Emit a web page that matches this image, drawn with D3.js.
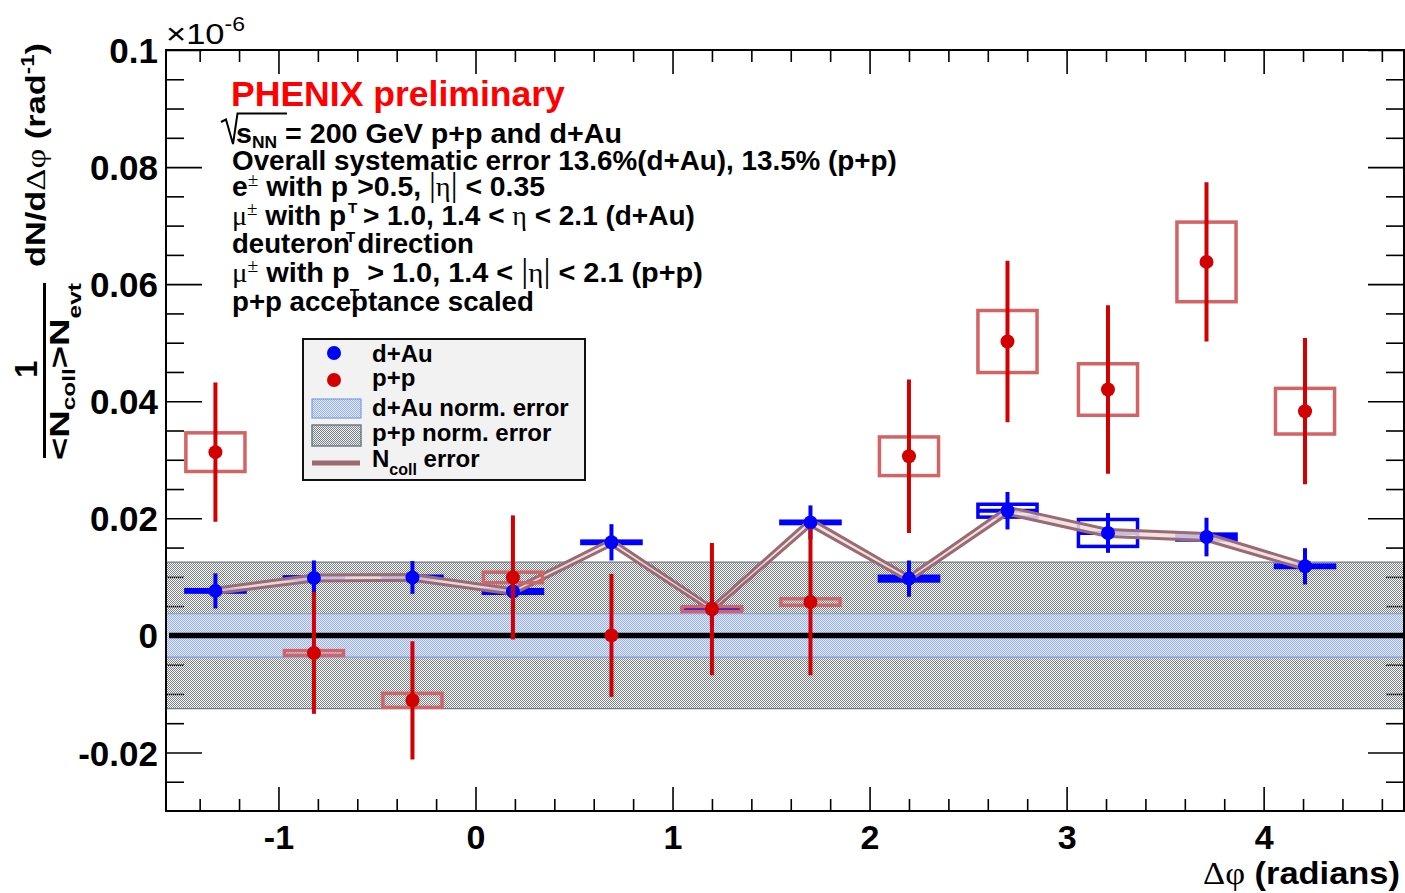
<!DOCTYPE html>
<html>
<head>
<meta charset="utf-8">
<script src="https://cdn.jsdelivr.net/npm/d3@7"></script>
<style>
  html, body { margin: 0; padding: 0; background: #ffffff; }
  svg { display: block; font-family: "Liberation Sans", Arial, Helvetica, sans-serif; }
</style>
</head>
<body>
<svg id="chart" width="1405" height="893"></svg>
<script>
// ---------------------------------------------------------------
// Azimuthal correlation per binary collision, d+Au vs p+p (x 1e-6)
// ---------------------------------------------------------------

// Δφ bin centres (radians)
const dphi = [-1.32, -0.82, -0.32, 0.19, 0.69, 1.20, 1.70, 2.20, 2.70, 3.21, 3.71, 4.21];

// d+Au: value, statistical error, systematic (box) error, N_coll error
const dAuValue = [0.0076, 0.0098, 0.0099, 0.0075, 0.0159, 0.0045, 0.0193, 0.0097, 0.0213, 0.0175, 0.0168, 0.0118];
const dAuStat  = [0.0030, 0.0030, 0.0028, 0.0028, 0.0031, 0.0028, 0.0029, 0.0031, 0.0032, 0.0034, 0.0033, 0.0031];
const dAuSyst  = [0.0002, 0.0002, 0.0002, 0.0003, 0.0002, 0.0001, 0.0002, 0.0004, 0.0011, 0.0023, 0.0005, 0.0002];
const dAuNcoll = [0.00045, 0.0005, 0.0005, 0.00045, 0.0005, 0.0004, 0.0006, 0.00045, 0.0006, 0.0006, 0.0006, 0.0005];

// p+p: value, statistical error, systematic (box) error
const ppValue = [0.0313, -0.0030, -0.0111, 0.0099, 0.0000, 0.0045, 0.0057, 0.0306, 0.0502, 0.0420, 0.0638, 0.0383];
const ppStat  = [0.0119, 0.0104, 0.0101, 0.0106, 0.0105, 0.0113, 0.0125, 0.0131, 0.0138, 0.0144, 0.0136, 0.0125];
const ppSyst  = [0.0033, 0.0004, 0.0012, 0.0009, 0.0000, 0.0004, 0.00055, 0.0033, 0.0053, 0.0044, 0.0068, 0.0039];

// half width of systematic boxes / horizontal error bars (radians)
const boxHalfWidth = 0.15;

// overall normalisation uncertainties, drawn as bands around zero
const ppNormError  = 0.0125;
const dAuNormError = 0.0037;

// axes
const xDomain = [-Math.PI / 2, 3 * Math.PI / 2];
const yDomain = [-0.03, 0.1];
const xTickValues = [-1, 0, 1, 2, 3, 4];
const xTickLabels = ["-1", "0", "1", "2", "3", "4"];
const yTickValues = [-0.02, 0, 0.02, 0.04, 0.06, 0.08, 0.1];
const yTickLabels = ["-0.02", "0", "0.02", "0.04", "0.06", "0.08", "0.1"];

// ---------------------------------------------------------------
const svg = d3.select("#chart");
const frame = { left: 166, right: 1404, top: 50, bottom: 811 };

const x = d3.scaleLinear().domain(xDomain).range([frame.left, frame.right]);
const y = d3.scaleLinear().domain(yDomain).range([frame.bottom, frame.top]);

const RED = "#d20000", RED_BOX = "#d26466", BLUE = "#0000ff", NCOLL = "#9c6a72";

const defs = svg.append("defs");
defs.append("clipPath").attr("id", "plotClip")
  .append("rect")
  .attr("x", frame.left).attr("y", frame.top)
  .attr("width", frame.right - frame.left).attr("height", frame.bottom - frame.top);

// fine checker fills for the normalisation bands
function checker(id, dot, bg) {
  const p = defs.append("pattern").attr("id", id)
    .attr("patternUnits", "userSpaceOnUse").attr("width", 2).attr("height", 2);
  if (bg) p.append("rect").attr("width", 2).attr("height", 2).attr("fill", bg);
  p.append("rect").attr("x", 0).attr("y", 0).attr("width", 1).attr("height", 1).attr("fill", dot);
  p.append("rect").attr("x", 1).attr("y", 1).attr("width", 1).attr("height", 1).attr("fill", dot);
}
checker("ppNormFill", "#787f87", null);
checker("dAuNormFill", "#9ab2ee", "#e2e9fb");

// stretch a text element horizontally (in its own frame) to a given length
function fitText(sel, length) {
  const w = sel.node().getComputedTextLength();
  if (w > 0) sel.attr("transform", `scale(${length / w},1)`);
  return sel;
}

// ---------------- axes (ticks on all four sides) ----------------
const xMinor = d3.range(-7, 24).map(i => +(i * 0.2).toFixed(1))
  .filter(v => Math.abs(v - Math.round(v)) > 1e-6);
const yMinor = d3.range(-5, 20).map(i => +(i * 0.005).toFixed(3))
  .filter(v => Math.abs(v / 0.02 - Math.round(v / 0.02)) > 1e-6);

function axisLayer(axis, tx, ty) {
  const g = svg.append("g").attr("transform", `translate(${tx},${ty})`).call(axis);
  g.select(".domain").remove();
  g.selectAll(".tick line").attr("stroke", "#000").attr("stroke-width", 1.6);
  return g;
}

const xMajorLen = 24, xMinorLen = 12, yMajorLen = 36, yMinorLen = 18;

const gBottom = axisLayer(d3.axisBottom(x).tickValues(xTickValues).tickSize(-xMajorLen)
  .tickPadding(14).tickFormat((d, i) => xTickLabels[i]), 0, frame.bottom);
gBottom.selectAll("text").attr("font-size", 34).attr("font-weight", "bold")
  .attr("fill", "#000").attr("font-family", "Liberation Sans, Arial, sans-serif");
axisLayer(d3.axisBottom(x).tickValues(xMinor).tickSize(-xMinorLen).tickFormat(""), 0, frame.bottom);
axisLayer(d3.axisTop(x).tickValues(xTickValues).tickSize(-xMajorLen).tickFormat(""), 0, frame.top);
axisLayer(d3.axisTop(x).tickValues(xMinor).tickSize(-xMinorLen).tickFormat(""), 0, frame.top);

const gLeft = axisLayer(d3.axisLeft(y).tickValues(yTickValues).tickSize(-yMajorLen)
  .tickPadding(8).tickFormat((d, i) => yTickLabels[i]), frame.left, 0);
gLeft.selectAll("text").attr("font-size", 35).attr("font-weight", "bold").attr("dy", "0.36em")
  .attr("fill", "#000").attr("font-family", "Liberation Sans, Arial, sans-serif");
axisLayer(d3.axisLeft(y).tickValues(yMinor).tickSize(-yMinorLen).tickFormat(""), frame.left, 0);
axisLayer(d3.axisRight(y).tickValues(yTickValues).tickSize(-yMajorLen).tickFormat(""), frame.right, 0);
axisLayer(d3.axisRight(y).tickValues(yMinor).tickSize(-yMinorLen).tickFormat(""), frame.right, 0);

// ---------------- normalisation bands ----------------
const plot = svg.append("g").attr("clip-path", "url(#plotClip)");

function band(err, fill, edge) {
  plot.append("rect")
    .attr("x", frame.left).attr("width", frame.right - frame.left)
    .attr("y", y(err)).attr("height", y(-err) - y(err))
    .attr("fill", `url(#${fill})`);
  [err, -err].forEach(v => plot.append("line")
    .attr("x1", frame.left).attr("x2", frame.right)
    .attr("y1", y(v)).attr("y2", y(v))
    .attr("stroke", edge).attr("stroke-width", 1.2));
}
band(ppNormError, "ppNormFill", "#6f7c8a");
band(dAuNormError, "dAuNormFill", "#7e9de4");

// zero line
plot.append("line")
  .attr("x1", frame.left + 3).attr("x2", frame.right)
  .attr("y1", y(0)).attr("y2", y(0))
  .attr("stroke", "#000").attr("stroke-width", 5.5);

// ---------------- d+Au ----------------
const dAu = dphi.map((d, i) => ({ x: d, v: dAuValue[i], stat: dAuStat[i], syst: dAuSyst[i], ncoll: dAuNcoll[i] }));
const pp = dphi.map((d, i) => ({ x: d, v: ppValue[i], stat: ppStat[i], syst: ppSyst[i] }));

function boxes(data, color) {
  plot.append("g").selectAll("rect").data(data).join("rect")
    .attr("x", d => x(d.x - boxHalfWidth))
    .attr("width", d => x(d.x + boxHalfWidth) - x(d.x - boxHalfWidth))
    .attr("y", d => y(d.v + d.syst))
    .attr("height", d => y(d.v - d.syst) - y(d.v + d.syst))
    .attr("fill", "none").attr("stroke", color).attr("stroke-width", 3.5);
}

boxes(dAu, BLUE);

// statistical error bars (vertical) and bin-width bars (horizontal)
const gDAuErr = plot.append("g").attr("stroke", BLUE).attr("stroke-width", 4);
gDAuErr.selectAll("line.v").data(dAu).join("line").attr("class", "v")
  .attr("x1", d => x(d.x)).attr("x2", d => x(d.x))
  .attr("y1", d => y(d.v + d.stat)).attr("y2", d => y(d.v - d.stat));
gDAuErr.selectAll("line.h").data(dAu).join("line").attr("class", "h")
  .attr("x1", d => x(d.x - boxHalfWidth)).attr("x2", d => x(d.x + boxHalfWidth))
  .attr("y1", d => y(d.v)).attr("y2", d => y(d.v));

// N_coll uncertainty: a double line following the d+Au points
const upper = d3.line().x(d => x(d.x)).y(d => y(d.v + d.ncoll));
const lower = d3.line().x(d => x(d.x)).y(d => y(d.v - d.ncoll));
const area = d3.area().x(d => x(d.x)).y0(d => y(d.v - d.ncoll)).y1(d => y(d.v + d.ncoll));
plot.append("path").datum(dAu).attr("d", area).attr("fill", "#eadede").attr("opacity", 0.85);
[upper, lower].forEach(gen => plot.append("path").datum(dAu).attr("d", gen)
  .attr("fill", "none").attr("stroke", NCOLL).attr("stroke-width", 3));

plot.append("g").selectAll("circle").data(dAu).join("circle")
  .attr("cx", d => x(d.x)).attr("cy", d => y(d.v)).attr("r", 7).attr("fill", BLUE);

// ---------------- p+p ----------------
boxes(pp, RED_BOX);
plot.append("g").attr("stroke", RED).attr("stroke-width", 4)
  .selectAll("line").data(pp).join("line")
  .attr("x1", d => x(d.x)).attr("x2", d => x(d.x))
  .attr("y1", d => y(d.v + d.stat)).attr("y2", d => y(d.v - d.stat));
plot.append("g").selectAll("circle").data(pp).join("circle")
  .attr("cx", d => x(d.x)).attr("cy", d => y(d.v)).attr("r", 7).attr("fill", RED);

// ---------------- frame ----------------
svg.append("rect")
  .attr("x", frame.left).attr("y", frame.top)
  .attr("width", frame.right - frame.left).attr("height", frame.bottom - frame.top)
  .attr("fill", "none").attr("stroke", "#000").attr("stroke-width", 2);

// ---------------- axis titles ----------------
const SERIF = "Liberation Serif, DejaVu Serif, serif";

// exponent
{
  const g = svg.append("g").attr("transform", "translate(166,44)");
  const t = g.append("text").attr("font-size", 30).attr("fill", "#000");
  t.append("tspan").text("×10");
  t.append("tspan").attr("font-size", 20).attr("dy", -13).text("-6");
  fitText(t, 79);
}

// x title
{
  const g = svg.append("g").attr("transform", "translate(1203,884)");
  const t = g.append("text").attr("font-size", 32).attr("font-weight", "bold").attr("fill", "#000");
  t.append("tspan").attr("font-family", SERIF).attr("font-weight", "normal").text("Δφ");
  t.append("tspan").text(" (radians)");
  fitText(t, 197);
}

// y title: 1/(<N_coll> N_evt) dN/dΔφ (rad^-1)
{
  const gNum = svg.append("g").attr("transform", "translate(37,369) rotate(-90)");
  gNum.append("text").attr("font-size", 31).attr("font-weight", "bold")
    .attr("text-anchor", "middle").text("1");

  svg.append("line").attr("x1", 44.5).attr("x2", 44.5).attr("y1", 283).attr("y2", 458)
    .attr("stroke", "#000").attr("stroke-width", 3);

  const gDen = svg.append("g").attr("transform", "translate(69,460) rotate(-90)");
  const den = gDen.append("text").attr("font-size", 28).attr("font-weight", "bold");
  den.append("tspan").text("<N");
  den.append("tspan").attr("font-size", 18).attr("dy", 6).text("coll");
  den.append("tspan").attr("dy", -6).text(">N");
  den.append("tspan").attr("font-size", 18).attr("dy", 12).text("evt");
  fitText(den, 177);

  const gD = svg.append("g").attr("transform", "translate(45,267) rotate(-90)");
  const dn = gD.append("text").attr("font-size", 28).attr("font-weight", "bold");
  dn.append("tspan").text("dN/d");
  dn.append("tspan").attr("font-family", SERIF).attr("font-weight", "normal").text("Δφ");
  dn.append("tspan").text(" (rad");
  dn.append("tspan").attr("font-size", 18).attr("dy", -11).text("-1");
  dn.append("tspan").attr("dy", 11).text(")");
  fitText(dn, 224);
}

// ---------------- annotation block ----------------
{
  const gP = svg.append("g").attr("transform", "translate(231,106)");
  fitText(gP.append("text").attr("font-size", 35).attr("font-weight", "bold")
    .attr("fill", "#ff0000").text("PHENIX preliminary"), 334);

  // a line of annotation text built from [text, style] pieces
  function annot(xPos, yPos, pieces, length) {
    const g = svg.append("g").attr("transform", `translate(${xPos},${yPos})`);
    const t = g.append("text").attr("font-size", 28).attr("font-weight", "bold").attr("fill", "#000");
    let shift = 0;
    pieces.forEach(([txt, kind]) => {
      const s = t.append("tspan").text(txt);
      let target = 0;
      if (kind === "sym") s.attr("font-family", SERIF).attr("font-weight", "normal");
      if (kind === "bar") s.attr("font-family", SERIF).attr("font-weight", "normal").attr("font-size", 34);
      if (kind === "sup") { s.attr("font-family", SERIF).attr("font-weight", "normal").attr("font-size", 19); target = -10; }
      if (kind === "sub") { s.attr("font-size", 15); target = 17; }
      if (kind === "subNN") { s.attr("font-size", 17); target = 5; }
      if (target !== shift) { s.attr("dy", target - shift); shift = target; }
    });
    return fitText(t, length);
  }

  // √ sign with overbar for sqrt(s_NN)
  svg.append("path")
    .attr("d", "M221,122 L226,119.5 L233,144 L237.5,113.5 L287,113.5")
    .attr("fill", "none").attr("stroke", "#000").attr("stroke-width", 2);

  annot(236, 143, [["s"], ["NN", "subNN"], [" = 200 GeV p+p and d+Au", "base"]], 386);
  annot(232, 170, [["Overall systematic error 13.6%(d+Au), 13.5% (p+p)"]], 665);
  annot(232, 196, [["e"], ["±", "sup"], [" with p", "base"], ["T", "sub"], [">0.5, ", "base"],
                   ["|", "bar"], ["η", "sym"], ["|", "bar"], [" < 0.35"]], 313);
  annot(232, 225, [["μ", "sym"], ["±", "sup"], [" with p", "base"], ["T", "sub"],
                   [" > 1.0, 1.4 < ", "base"], ["η", "sym"], [" < 2.1 (d+Au)"]], 463);
  annot(232, 253, [["deuteron direction"]], 242);
  annot(232, 282, [["μ", "sym"], ["±", "sup"], [" with  p", "base"], ["T", "sub"],
                   [" > 1.0, 1.4 < ", "base"], ["|", "bar"], ["η", "sym"], ["|", "bar"], [" < 2.1 (p+p)"]], 471);
  annot(232, 311, [["p+p acceptance scaled"]], 302);
}

// ---------------- legend ----------------
{
  const lg = svg.append("g");
  lg.append("rect").attr("x", 303).attr("y", 339).attr("width", 282).attr("height", 141)
    .attr("fill", "#f2f2f2").attr("stroke", "#111").attr("stroke-width", 2);

  lg.append("circle").attr("cx", 334).attr("cy", 353).attr("r", 7).attr("fill", BLUE);
  lg.append("circle").attr("cx", 334).attr("cy", 380).attr("r", 7).attr("fill", RED);
  lg.append("rect").attr("x", 312).attr("y", 399).attr("width", 49).attr("height", 19)
    .attr("fill", "url(#dAuNormFill)").attr("stroke", "#7e9de4").attr("stroke-width", 1.2);
  lg.append("rect").attr("x", 312).attr("y", 425).attr("width", 49).attr("height", 21)
    .attr("fill", "url(#ppNormFill)").attr("stroke", "#6f7c8a").attr("stroke-width", 1.5);
  lg.append("line").attr("x1", 312).attr("x2", 360).attr("y1", 463).attr("y2", 463)
    .attr("stroke", NCOLL).attr("stroke-width", 5);

  const entry = (yb, build) => {
    const t = lg.append("text").attr("x", 372).attr("y", yb)
      .attr("font-size", 24).attr("font-weight", "bold").attr("fill", "#000");
    build(t);
  };
  entry(362, t => t.text("d+Au"));
  entry(386, t => t.text("p+p"));
  entry(416, t => t.text("d+Au norm. error"));
  entry(441, t => t.text("p+p norm. error"));
  entry(467, t => {
    t.append("tspan").text("N");
    t.append("tspan").attr("font-size", 16).attr("dy", 8).text("coll");
    t.append("tspan").attr("dy", -8).text(" error");
  });
}
</script>
</body>
</html>
